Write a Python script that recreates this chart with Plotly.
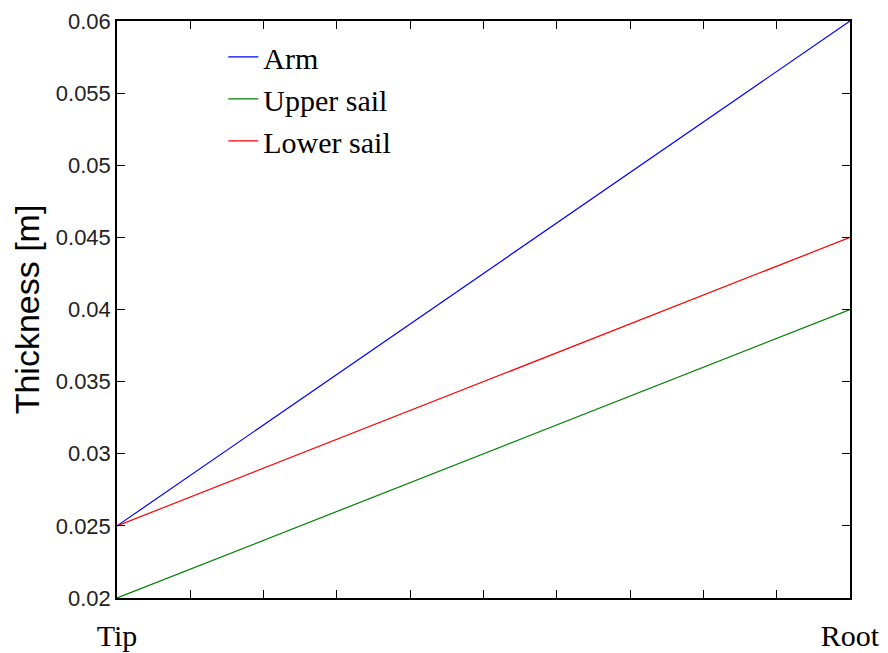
import plotly.graph_objects as go

positions = [0, 1]
arm = [0.025, 0.060]
upper_sail = [0.020, 0.040]
lower_sail = [0.025, 0.045]
x_tick_vals = [0, 1]
x_tick_text = ["Tip", "Root"]

series = [
    ("Arm", arm, "#0000ff"),
    ("Upper sail", upper_sail, "#008000"),
    ("Lower sail", lower_sail, "#ff0000"),
]

fig = go.Figure()
for name, vals, color in series:
    fig.add_trace(go.Scatter(x=positions, y=vals, mode="lines", name=name,
                             line=dict(color=color, width=1.2)))

# page body has an 8px margin; compensate so the plot area lands at 117..850 x 21..598
fig.update_layout(
    width=880, height=645,
    margin=dict(l=109, r=38, t=13, b=55, autoexpand=False),
    paper_bgcolor="white", plot_bgcolor="white",
    showlegend=True,
    legend=dict(x=0.145, y=0.983, xanchor="left", yanchor="top",
                bgcolor="rgba(0,0,0,0)", borderwidth=0,
                font=dict(family="Liberation Serif", size=30, color="black"),
                tracegroupgap=0, itemwidth=30),
)
fig.update_xaxes(
    range=[0, 1], tickvals=x_tick_vals, ticktext=x_tick_text,
    ticks="inside", ticklen=8, tickwidth=1.2, tickcolor="black",
    showline=True, linecolor="black", linewidth=1.5, mirror="ticks",
    showgrid=False, zeroline=False, automargin=False,
    tickfont=dict(family="Liberation Serif", size=30, color="black"),
    ticklabelstandoff=10,
    minor=dict(dtick=0.1, ticks="inside", ticklen=8, tickwidth=1.2, tickcolor="black", showgrid=False),
)
fig.update_yaxes(
    range=[0.02, 0.06], dtick=0.005,
    ticks="inside", ticklen=8, tickwidth=1.2, tickcolor="black",
    showline=True, linecolor="black", linewidth=1.5, mirror="ticks",
    showgrid=False, zeroline=False, automargin=False,
    tickfont=dict(family="Liberation Sans", size=22, color="#222222"),
    title=dict(text="Thickness [m]", font=dict(family="Liberation Sans", size=34, color="black"), standoff=10),
)

fig.write_html("out.html")
